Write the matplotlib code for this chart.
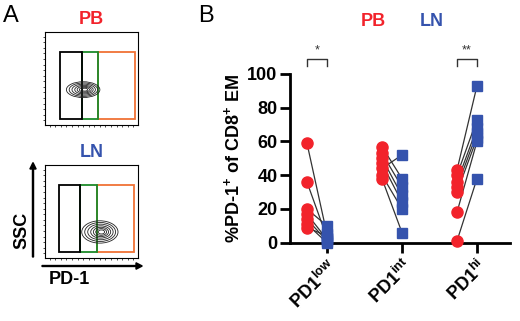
import numpy as np
import matplotlib
matplotlib.use("Agg")
import matplotlib.pyplot as plt
from matplotlib.patches import Rectangle, Ellipse

plt.rcParams['font.family'] = ['Liberation Sans', 'DejaVu Sans']
plt.rcParams['mathtext.fontset'] = 'custom'
plt.rcParams['mathtext.rm'] = 'Liberation Sans'
plt.rcParams['mathtext.bf'] = 'Liberation Sans:bold'

RED = "#f2232b"
BLUE = "#3553ad"
GREEN = "#1c8a2a"
ORANGE = "#f07235"

# --- panel B data (paired PB -> LN, % PD-1+ of CD8+ EM)
categories = ["PD1$^{\\mathbf{low}}$", "PD1$^{\\mathbf{int}}$", "PD1$^{\\mathbf{hi}}$"]
pb_low = [59, 36, 20, 17, 14, 11, 9]
ln_low = [5, 3, 10, 2, 1, 0, 4]
pb_int = [44, 57, 53, 50, 47, 40, 38]
ln_int = [52, 38, 33, 28, 24, 20, 6]
pb_hi = [43, 40, 36, 33, 30, 18, 1]
ln_hi = [93, 73, 68, 65, 62, 60, 38]
sig_labels = ["*", "", "**"]

# --- panel A gates (fraction of plot box): black / green / orange
gate_edges_pb = [0.16, 0.40, 0.57, 0.97]
gate_edges_ln = [0.15, 0.376, 0.56, 0.957]
contour_pb = (0.41, 0.38, 0.36, 0.17)   # centre x, centre y, width, height
contour_ln = (0.59, 0.28, 0.39, 0.24)
contour_scales = [1.0, 0.85, 0.7, 0.55, 0.42, 0.3, 0.18]

fig = plt.figure(figsize=(5.2, 3.21), dpi=100)

# ---------------- panel A
def flow_box(rect, edges, cont, title, tcolor):
    ax = fig.add_axes(rect)
    ax.set_xlim(0, 1)
    ax.set_ylim(0, 1)
    for sp in ax.spines.values():
        sp.set_linewidth(0.8)
    ax.set_xticks(np.linspace(0.05, 0.95, 16))
    ax.set_yticks(np.linspace(0.05, 0.95, 16))
    ax.tick_params(length=1.5, width=0.5, labelleft=False, labelbottom=False,
                   direction="out")
    y0, y1 = 0.06, 0.785
    cols = ["black", GREEN, ORANGE]
    for i in range(3)[::-1]:
        ax.add_patch(Rectangle((edges[i], y0), edges[i + 1] - edges[i], y1 - y0,
                               fill=False, ec=cols[i], lw=1.3))
    cx, cy, w, h = cont
    for k, s in enumerate(contour_scales):
        ax.add_patch(Ellipse((cx + 0.02 * (1 - s), cy), w * s, h * s,
                             fill=False, ec="#222222", lw=0.6))
    ax.text(0.5, 1.04, title, color=tcolor, fontsize=13, fontweight="bold",
            ha="center", va="bottom", transform=ax.transAxes)
    return ax

flow_box([45 / 520, 1 - 125 / 321, 93 / 520, 93 / 321], gate_edges_pb,
         contour_pb, "PB", RED)
flow_box([45 / 520, 1 - 258 / 321, 93 / 520, 93 / 321], gate_edges_ln,
         contour_ln, "LN", BLUE)

fig.text(3 / 520, 1 - 16 / 321, "A", fontsize=17, va="center", ha="left")
fig.text(198 / 520, 1 - 16 / 321, "B", fontsize=17, va="center", ha="left")

# axis arrows for the flow plots
fig.patches.append(matplotlib.patches.FancyArrow(
    33 / 520, 1 - 257 / 321, 0, 88 / 321, width=0.002, head_width=0.012,
    head_length=0.02, color="black", transform=fig.transFigure))
fig.patches.append(matplotlib.patches.FancyArrow(
    42 / 520, 1 - 266 / 321, 94 / 520, 0, width=0.003, head_width=0.02,
    head_length=0.012, color="black", transform=fig.transFigure))
fig.text(22 / 520, 1 - 230 / 321, "SSC", rotation=90, fontsize=13,
         fontweight="bold", ha="center", va="center")
fig.text(69 / 520, 1 - 280 / 321, "PD-1", fontsize=13, fontweight="bold",
         ha="center", va="center")

# ---------------- panel B
ax = fig.add_axes([290 / 520, 1 - 242.7 / 321, 220 / 520, 168.7 / 321])
off = -0.267
pairs = [(pb_low, ln_low), (pb_int, ln_int), (pb_hi, ln_hi)]
for i, (pb, ln) in enumerate(pairs):
    for a, b in zip(pb, ln):
        ax.plot([i + off, i], [a, b], color="#333333", lw=0.9, zorder=2,
                clip_on=False)
    ax.plot([i + off] * len(pb), pb, "o", color=RED, ms=8, mec=RED,
            zorder=3, clip_on=False)
    ax.plot([i] * len(ln), ln, "s", color=BLUE, ms=7.5, mec=BLUE,
            zorder=3, clip_on=False)
    if sig_labels[i]:
        ax.plot([i + off, i + off, i, i], [104.8, 109, 109, 104.8],
                color="#333333", lw=1.0, clip_on=False)
        ax.text(i + off / 2, 110.5, sig_labels[i], ha="center", va="bottom",
                fontsize=9, color="#333333")

ax.set_xlim(-0.493, 2.44)
ax.set_ylim(0, 100)
ax.set_yticks([0, 20, 40, 60, 80, 100])
ax.set_xticks([0, 1, 2])
ax.set_xticklabels(categories, rotation=45, ha="right",
                   rotation_mode="anchor", fontsize=13, fontweight="bold")
for t in ax.get_yticklabels():
    t.set_fontweight("bold")
ax.tick_params(axis="y", labelsize=13, length=7, width=2, pad=2)
ax.tick_params(axis="x", length=7, width=2, pad=3)
for s in ["top", "right"]:
    ax.spines[s].set_visible(False)
for s in ["left", "bottom"]:
    ax.spines[s].set_linewidth(2)
ax.set_ylabel("%PD-1$^{\\mathbf{+}}$ of CD8$^{\\mathbf{+}}$ EM", fontsize=13,
              fontweight="bold", labelpad=3)

fig.text(373 / 520, 1 - 22 / 321, "PB", color=RED, fontsize=13,
         fontweight="bold", ha="center", va="center")
fig.text(432 / 520, 1 - 22 / 321, "LN", color=BLUE, fontsize=13,
         fontweight="bold", ha="center", va="center")

fig.savefig("out.png", dpi=100)
